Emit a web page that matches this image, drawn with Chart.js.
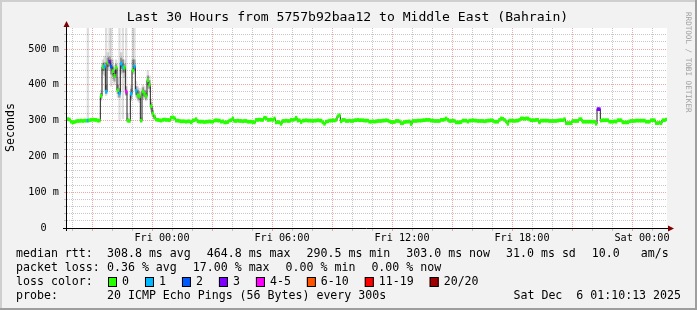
<!DOCTYPE html>
<html>
<head>
<meta charset="utf-8">
<script src="https://cdn.jsdelivr.net/npm/chart.js@4.4.1/dist/chart.umd.min.js"></script>
<style>
html,body{margin:0;padding:0;background:#f2f2f2;overflow:hidden;}
canvas{display:block;}
</style>
</head>
<body>
<canvas id="c" width="697" height="310"></canvas>
<script>
// ---------- data ----------
const chartTitle = 'Last 30 Hours from 5757b92baa12 to Middle East (Bahrain)';
const yAxisTitle = 'Seconds';
const watermark = 'RRDTOOL / TOBI OETIKER';

const startHour = -4.75;   // hours relative to Fri 00:00
const endHour = 25.25;
const stepMinutes = 5;

// median RTT (ms), one value per 5-minute step
const medianRtt = [
  304,303,297,295,296,298,299,299,300,299,300,300,300,301,302,303,302,302,300,300,
  369,450,451,381,462,464.8,451,438,425,448,385,376,459,449,448,381,300,299,375,440,
  451,383,371,368,300,381,375,368,412,400,340,320,310,303,302,301,300,302,303,302,
  302,301,308,309,307,300,300,299,298,298,298,297,298,298,295,300,301,304,298,297,
  297,297,296,297,297,298,297,297,300,301,300,300,297,298,295,295,296,300,301,306,
  299,299,300,299,299,298,299,299,297,297,297,296,295,302,302,303,302,302,308,307,
  302,302,303,302,306,295,296,295,291,299,299,300,299,299,302,302,303,308,300,301,
  296,300,300,301,300,300,300,299,300,300,301,300,300,295,291,297,298,300,300,301,
  300,302,312,315,298,302,302,299,299,300,299,299,301,301,302,301,301,301,300,300,
  300,297,297,298,297,298,299,299,299,300,300,301,300,298,296,296,296,299,299,298,
  293,293,296,297,297,298,290.5,299,299,299,300,300,300,301,301,302,302,302,300,300,
  299,299,299,299,302,302,303,306,302,299,299,300,299,295,295,295,296,300,300,300,
  297,300,300,301,300,300,299,299,299,299,298,299,300,300,301,300,297,297,297,302,
  306,305,302,298,291,300,300,300,299,300,300,302,306,306,305,306,306,303,301,301,
  301,302,302,295,300,300,300,300,300,299,299,299,299,299,300,301,301,301,304,293,
  293,293,293,299,299,299,299,304,304,297,297,297,297,297,297,297,297,291,332,332,
  300,301,301,301,301,297,297,297,298,297,301,301,301,295,295,295,295,298,299,299,
  299,300,300,300,300,300,300,297,297,297,301,301,301,293,293,294,293,301,301,303
];

// steps with packet loss (index into medianRtt) and lost pings out of 20
const lossIndex = [12, 22, 23, 25, 26, 31, 32, 33, 35, 38, 40, 41, 318, 319];
const lossPings = [ 1,  1,  1,  3,  2,  1,  1,  1,  4,  1,  1,  1,   3,   3];

const lossCategories = ['0', '1', '2', '3', '4-5', '6-10', '11-19', '20/20'];
const lossColors = ['#26ff00', '#00b8ff', '#0059ff', '#7e00ff', '#ff00ff', '#ff5500', '#ff0000', '#a10000'];

// smoke (ping spread) for the steps where it is visible
const smokeIndex = [12,20,21,22,23,24,25,26,27,28,29,30,31,32,33,34,35,36,38,39,40,41,42,43,44,45,46,47,48,49,50,51,52];
const smokeMin  = [296,355,430,425,370,440,440,396,415,400,420,365,300,430,305,420,370,296,355,430,430,365,355,350,296,360,360,355,390,380,325,310,302];
const smokeMax  = [600,385,470,480,600,490,600,600,470,455,470,420,600,490,600,470,600,320,400,600,600,410,395,390,310,400,395,385,440,425,360,335,318];
const smokeLow  = [298,362,440,440,376,450,452,430,425,410,432,375,365,445,435,435,372,298,362,440,440,372,362,358,298,370,366,360,400,390,332,315,305];
const smokeHigh = [303,376,460,462,400,475,478,470,450,440,458,400,390,475,470,458,395,305,388,470,470,395,385,380,305,392,385,378,425,412,350,328,314];

// axes
const xTickHours = [-4,-3,-2,-1,0,1,2,3,4,5,6,7,8,9,10,11,12,13,14,15,16,17,18,19,20,21,22,23,24,25];
const xLabelHours = [0, 6, 12, 18, 24];
const xLabels = ['Fri 00:00', 'Fri 06:00', 'Fri 12:00', 'Fri 18:00', 'Sat 00:00'];
const yMax = 558.7;
const yTickValues = [0,20,40,60,80,100,120,140,160,180,200,220,240,260,280,300,320,340,360,380,400,420,440,460,480,500,520,540];
const yLabelValues = [0, 100, 200, 300, 400, 500];
const yLabels = ['0  ', '100 m', '200 m', '300 m', '400 m', '500 m'];

// legend texts
const legendLabels = ['median rtt:', 'packet loss:', 'loss color:', 'probe:'];
const rttStats = ['308.8 ms avg', '464.8 ms max', '290.5 ms min', '303.0 ms now', '31.0 ms sd', '10.0   am/s'];
const lossStats = ['0.36 % avg', '17.00 % max', '0.00 % min', '0.00 % now'];
const probeText = '20 ICMP Echo Pings (56 Bytes) every 300s';
const dateText = 'Sat Dec  6 01:10:13 2025';

// ---------- build ----------
const MONO = '"DejaVu Sans Mono", monospace';
const GRID = 'rgba(143,143,143,0.5)';
const MGRID = 'rgba(230,80,80,0.5)';
const LOSS_HALF = 4.2;   // half height of the loss-coloured median mark (ms)

const xOf = i => startHour + (i + 0.5) * stepMinutes / 60;
function lossCat(p) {
  if (p <= 3) return p;
  if (p <= 5) return 4;
  if (p <= 10) return 5;
  if (p <= 19) return 6;
  return 7;
}
const lossByStep = medianRtt.map(() => 0);
lossIndex.forEach((idx, k) => { lossByStep[idx] = lossCat(lossPings[k]); });

const medianPoints = medianRtt.map((v, i) => ({ x: xOf(i), y: v }));
const lossMarks = medianRtt.map((v, i) => ({ x: xOf(i), y: [v - LOSS_HALF, v + LOSS_HALF] }));
const outerSmoke = smokeIndex.map((idx, k) => ({ x: xOf(idx), y: [smokeMin[k], smokeMax[k]] }));
const innerSmoke = smokeIndex.map((idx, k) => ({ x: xOf(idx), y: [smokeLow[k], smokeHigh[k]] }));

const framePlugin = {
  id: 'frame',
  beforeDraw(chart) {
    const { ctx, width, height, chartArea: a } = chart;
    ctx.save();
    ctx.fillStyle = '#f2f2f2';
    ctx.fillRect(0, 0, width, height);
    ctx.fillStyle = '#cfcfcf';
    ctx.fillRect(0, 0, width, 2);
    ctx.fillRect(0, 0, 2, height);
    ctx.fillStyle = '#9e9e9e';
    ctx.fillRect(0, height - 2, width, 2);
    ctx.fillRect(width - 2, 0, 2, height);
    ctx.fillStyle = '#ffffff';
    ctx.fillRect(a.left, a.top, a.right - a.left, a.bottom - a.top);
    ctx.restore();
  },
  afterDraw(chart) {
    const { ctx, width, chartArea: a } = chart;
    ctx.save();
    // axes
    ctx.strokeStyle = '#000';
    ctx.lineWidth = 1;
    ctx.beginPath();
    ctx.moveTo(a.left - 4, a.bottom + 0.5);
    ctx.lineTo(a.right + 3, a.bottom + 0.5);
    ctx.moveTo(a.left - 0.5, a.bottom + 3);
    ctx.lineTo(a.left - 0.5, a.top - 3);
    ctx.stroke();
    // arrows
    ctx.fillStyle = '#7f0000';
    ctx.beginPath();
    ctx.moveTo(a.right + 7, a.bottom + 0.5);
    ctx.lineTo(a.right + 1, a.bottom - 2.5);
    ctx.lineTo(a.right + 1, a.bottom + 3.5);
    ctx.closePath();
    ctx.fill();
    ctx.beginPath();
    ctx.moveTo(a.left - 0.5, a.top - 7);
    ctx.lineTo(a.left - 3.5, a.top - 1);
    ctx.lineTo(a.left + 2.5, a.top - 1);
    ctx.closePath();
    ctx.fill();

    // title
    ctx.fillStyle = '#000';
    ctx.textBaseline = 'middle';
    ctx.textAlign = 'center';
    ctx.font = '13.1px ' + MONO;
    ctx.fillText(chartTitle, 347.5, 18);

    // y axis title
    ctx.save();
    ctx.translate(10.5, 127.5);
    ctx.rotate(-Math.PI / 2);
    ctx.font = '11.6px ' + MONO;
    ctx.fillText(yAxisTitle, 0, 0);
    ctx.restore();

    // watermark
    ctx.save();
    ctx.translate(width - 9, 12);
    ctx.rotate(Math.PI / 2);
    ctx.textAlign = 'left';
    ctx.font = '7.6px ' + MONO;
    ctx.fillStyle = '#a0a0a0';
    ctx.fillText(watermark, 0, 0);
    ctx.restore();

    // legend
    ctx.font = '11.6px ' + MONO;
    ctx.textAlign = 'left';
    ctx.fillStyle = '#000';
    const rowY = [254, 268, 282, 296];
    legendLabels.forEach((t, k) => ctx.fillText(t, 16, rowY[k]));
    let x = 107;
    rttStats.forEach(s => { ctx.fillText(s, x, rowY[0]); x += ctx.measureText(s).width + 16; });
    x = 107;
    lossStats.forEach(s => { ctx.fillText(s, x, rowY[1]); x += ctx.measureText(s).width + 16; });
    x = 108;
    lossCategories.forEach((lab, k) => {
      ctx.fillStyle = lossColors[k];
      ctx.fillRect(x, 277, 9, 10);
      ctx.strokeStyle = '#000';
      ctx.strokeRect(x + 0.5, 277.5, 8, 9);
      ctx.fillStyle = '#000';
      ctx.fillText(lab, x + 14, rowY[2]);
      x += 14 + ctx.measureText(lab).width + 16;
    });
    ctx.fillText(probeText, 107, rowY[3]);
    ctx.textAlign = 'right';
    ctx.fillText(dateText, 681, rowY[3]);
    ctx.restore();
  }
};

const barCommon = { type: 'bar', borderWidth: 0, grouped: false, barPercentage: 1, categoryPercentage: 1 };

new Chart(document.getElementById('c'), {
  type: 'line',
  data: {
    datasets: [
      Object.assign({
        label: 'median (loss colour)',
        order: 0,
        data: lossMarks,
        backgroundColor: lossByStep.map(c => lossColors[c])
      }, barCommon),
      {
        label: 'median',
        type: 'line',
        order: 1,
        data: medianPoints,
        borderWidth: 1,
        borderColor: '#202020',
        stepped: 'middle',
        pointRadius: 0
      },
      Object.assign({
        label: 'smoke inner',
        order: 2,
        data: innerSmoke,
        backgroundColor: 'rgba(0,0,0,0.28)'
      }, barCommon),
      Object.assign({
        label: 'smoke outer',
        order: 3,
        data: outerSmoke,
        backgroundColor: 'rgba(0,0,0,0.13)'
      }, barCommon)
    ]
  },
  options: {
    responsive: false,
    animation: false,
    devicePixelRatio: 1,
    events: [],
    layout: { padding: { left: 0, top: 28, right: 30, bottom: 62 } },
    plugins: { legend: { display: false }, tooltip: { enabled: false }, title: { display: false } },
    scales: {
      x: {
        type: 'linear',
        min: startHour,
        max: endHour,
        offset: false,
        afterBuildTicks: s => { s.ticks = xTickHours.map(v => ({ value: v })); },
        afterFit: s => { s.height = 20; },
        ticks: {
          autoSkip: false, maxRotation: 0, minRotation: 0, padding: 1,
          color: '#000', font: { family: MONO, size: 10.2 },
          callback: v => { const k = xLabelHours.indexOf(v); return k >= 0 ? xLabels[k] : ''; }
        },
        grid: {
          color: c => (c.tick && c.tick.value % 3 === 0) ? MGRID : GRID,
          lineWidth: 1, drawTicks: true, tickLength: 3
        },
        border: { display: false, dash: [1, 1] }
      },
      y: {
        type: 'linear',
        min: 0,
        max: yMax,
        afterBuildTicks: s => { s.ticks = yTickValues.map(v => ({ value: v })); },
        afterFit: s => { s.width = 67; },
        ticks: {
          autoSkip: false, padding: 5,
          color: '#000', font: { family: MONO, size: 10.2 },
          callback: v => { const k = yLabelValues.indexOf(v); return k >= 0 ? yLabels[k] : ''; }
        },
        grid: {
          color: c => (c.tick && c.tick.value % 100 === 0) ? MGRID : GRID,
          lineWidth: 1, drawTicks: true, tickLength: 3
        },
        border: { display: false, dash: [1, 1] }
      }
    }
  },
  plugins: [framePlugin]
});
</script>
</body>
</html>
